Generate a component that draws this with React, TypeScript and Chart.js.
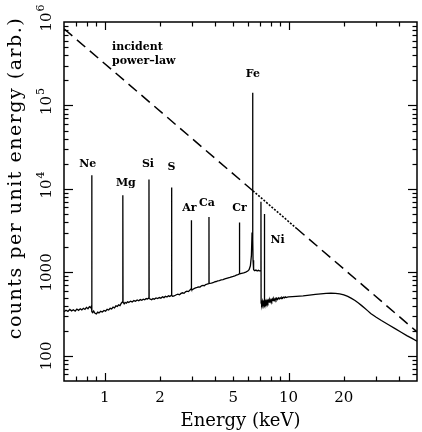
import { useEffect, useRef } from "react";
import { Chart, registerables } from "chart.js";
Chart.register(...registerables);

// Continuum of the reflected spectrum (keV, counts)
const contE = [
  0.6, 0.615, 0.63, 0.645, 0.66, 0.675, 0.69, 0.705, 0.72, 0.735, 0.75, 0.765, 0.78, 0.795, 0.81, 0.825, 0.838, 0.846,
  0.852, 0.86, 0.87, 0.885, 0.9, 0.915, 0.93, 0.95, 0.97, 0.99, 1.01, 1.03, 1.05, 1.07, 1.09, 1.11, 1.13, 1.15, 1.17,
  1.19, 1.21, 1.23, 1.251, 1.257, 1.275, 1.29, 1.31, 1.33, 1.35, 1.38, 1.41, 1.44, 1.47, 1.5, 1.53, 1.56, 1.59, 1.62,
  1.65, 1.68, 1.71, 1.736, 1.744, 1.77, 1.8, 1.83, 1.86, 1.9, 1.94, 1.98, 2.02, 2.06, 2.1, 2.14, 2.18, 2.22, 2.26,
  2.305, 2.315, 2.35, 2.4, 2.45, 2.5, 2.55, 2.6, 2.65, 2.7, 2.75, 2.8, 2.85, 2.9, 2.955, 2.965, 3.0, 3.06, 3.12, 3.18,
  3.24, 3.3, 3.36, 3.42, 3.48, 3.54, 3.6, 3.685, 3.695, 3.8, 3.88, 3.96, 4.04, 4.12, 4.2, 4.3, 4.4, 4.5, 4.6, 4.7,
  4.8, 4.9, 5.0, 5.1, 5.2, 5.3, 5.405, 5.415, 5.55, 5.7, 5.85, 6.0, 6.1, 6.2, 6.28, 6.33, 6.37, 6.385, 6.395, 6.41,
  6.43, 6.48, 6.55, 6.65, 6.75, 6.85, 6.95, 7.04, 7.075, 7.09, 7.12, 7.16, 7.2, 7.24, 7.28, 7.32, 7.36, 7.395, 7.405,
  7.45, 7.5, 7.55, 7.6, 7.66, 7.72, 7.78, 7.84, 7.9, 7.96, 8.03, 8.1, 8.17, 8.24, 8.31, 8.38, 8.46, 8.54, 8.62, 8.7,
  8.8, 8.9, 9.0, 9.1, 9.2, 9.3, 9.4, 9.5, 9.6, 9.7, 9.85, 10.0, 10.5, 11, 12, 13, 14, 15, 16, 17, 18, 19, 20, 21, 22,
  23, 24, 25, 26, 27, 28, 30, 32, 35, 38, 41, 44, 47, 50,
];
const contC = [
  338, 352, 341, 360, 346, 357, 343, 364, 351, 367, 356, 372, 360, 381, 367, 389, 377, 395,
  338, 330, 345, 324, 318, 334, 327, 342, 335, 350, 343, 361, 354, 371, 365, 383, 375, 397, 391,
  409, 401, 427, 445, 440, 420, 436, 427, 445, 437, 452, 443, 460, 451, 468, 457, 472, 463, 478,
  469, 486, 479, 495, 488, 477, 471, 486, 477, 494, 485, 500, 491, 510, 499, 518, 507, 524, 515,
  535, 530, 517, 526, 540, 548, 539, 560, 570, 561, 585, 596, 589, 612, 640, 631, 621, 640, 652, 660,
  672, 667, 690, 700, 693, 716, 722, 735, 738, 745, 752, 770, 778, 790, 798, 812, 820, 836, 848, 860,
  872, 885, 896, 910, 925, 940, 958, 962, 975, 990, 1010, 1040, 1080, 1200, 1600, 3000, 3700, 3600, 2500, 1400,
  1150, 1080, 1050, 1070, 1040, 1060, 1045, 1050, 1040, 430, 445, 412, 450, 418, 440, 425, 448, 430, 425,
  452, 428, 455, 432, 458, 436, 462, 440, 466, 445, 472, 452, 478, 458, 482, 462, 486, 468, 490, 474,
  494, 480, 498, 486, 502, 492, 506, 496, 508, 500, 506, 509, 512, 516, 524, 534, 545, 552, 560, 563, 560, 552, 538, 515, 488,
  460, 430, 400, 372, 346, 322, 290, 265, 236, 212, 192, 175, 162, 150,
];

// Emission lines (keV, peak counts)
const lineNames = ["Ne", "Mg", "Si", "S", "Ar", "Ca", "Cr", "Fe", "", "Ni"];
const lineE = [0.849, 1.254, 1.74, 2.31, 2.96, 3.69, 5.41, 6.39, 7.08, 7.4];
const lineC = [14600, 8400, 12970, 10400, 4210, 4610, 3950, 142000, 7000, 5000];

// Incident power-law (keV, counts): dashed, dotted section, dashed
const plDashAE = [0.6, 6.4];
const plDashAC = [830000, 9500];
const plDotE = [6.4, 11];
const plDotC = [9500, 3400];
const plDashBE = [11, 50];
const plDashBC = [3400, 194];

const xTickLabels = [1, 2, 5, 10, 20];
const yTickValues = [100, 1000, 10000, 100000, 1000000];

// label pixel offsets from (line x, peak y)
const labelOffsets: ([number, number] | null)[] = [
  [-4, -11], [3, -12], [-1, -15], [0, -20], [-2, -12], [-2, -14], [0, -14], [0, -19], null, [13, 26],
];

const SERIF = '"DejaVu Serif", serif';

function pts(e: number[], c: number[]) {
  return e.map((v, i) => ({ x: v, y: c[i] }));
}

const framePlugin = {
  id: "framePlugin",
  afterDraw(chart: any) {
    const { ctx, chartArea: a, scales } = chart;
    const xs = scales.x;
    const ys = scales.y;
    ctx.save();
    ctx.strokeStyle = "#000";
    ctx.fillStyle = "#000";
    ctx.lineWidth = 1.5;
    ctx.strokeRect(a.left, a.top, a.right - a.left, a.bottom - a.top);
    ctx.lineWidth = 1.2;
    const seg = (x1: number, y1: number, x2: number, y2: number) => {
      ctx.beginPath();
      ctx.moveTo(x1, y1);
      ctx.lineTo(x2, y2);
      ctx.stroke();
    };
    for (let d = -1; d <= 1; d++) {
      for (let m = 1; m <= 9; m++) {
        const v = m * Math.pow(10, d);
        if (v <= xs.min * 1.0001 || v >= xs.max * 0.9999) continue;
        const px = Math.round(xs.getPixelForValue(v)) + 0.5;
        const len = m === 1 ? 8 : 4.5;
        seg(px, a.bottom, px, a.bottom - len);
        seg(px, a.top, px, a.top + len);
      }
    }
    for (let d = 1; d <= 6; d++) {
      for (let m = 1; m <= 9; m++) {
        const v = m * Math.pow(10, d);
        if (v <= ys.min * 1.0001 || v >= ys.max * 0.9999) continue;
        const py = Math.round(ys.getPixelForValue(v)) + 0.5;
        const len = m === 1 ? 9 : 4.5;
        seg(a.left, py, a.left + len, py);
        seg(a.right, py, a.right - len, py);
      }
    }
    // x tick labels
    ctx.font = `15px ${SERIF}`;
    ctx.textAlign = "center";
    ctx.textBaseline = "middle";
    for (const v of xTickLabels) {
      ctx.fillText(String(v), xs.getPixelForValue(v), a.bottom + 17);
    }
    // y tick labels (rotated)
    for (const v of yTickValues) {
      const py = ys.getPixelForValue(v);
      const exp = Math.round(Math.log10(v));
      ctx.save();
      ctx.translate(47, py);
      ctx.rotate(-Math.PI / 2);
      ctx.textBaseline = "middle";
      if (exp <= 3) {
        ctx.font = `15px ${SERIF}`;
        ctx.textAlign = "center";
        ctx.fillText(String(v), 0, 0);
      } else {
        ctx.font = `15px ${SERIF}`;
        const w = ctx.measureText("10").width;
        ctx.textAlign = "left";
        ctx.fillText("10", -w / 2, 0);
        ctx.font = `11px ${SERIF}`;
        ctx.fillText(String(exp), w / 2 + 1, -6);
      }
      ctx.restore();
    }
    // axis titles
    ctx.font = `18px ${SERIF}`;
    ctx.textAlign = "center";
    ctx.textBaseline = "middle";
    ctx.fillText("Energy (keV)", (a.left + a.right) / 2, 421);
    ctx.save();
    ctx.translate(16, 178);
    ctx.rotate(-Math.PI / 2);
    ctx.font = `19px ${SERIF}`;
    try {
      (ctx as any).letterSpacing = "1.5px";
    } catch (e) {}
    ctx.fillText("counts per unit energy (arb.)", 0, 0);
    try {
      (ctx as any).letterSpacing = "0px";
    } catch (e) {}
    ctx.restore();
    // line labels
    ctx.font = `bold 11px ${SERIF}`;
    ctx.textAlign = "center";
    ctx.textBaseline = "middle";
    lineNames.forEach((n, i) => {
      const off = labelOffsets[i];
      if (!n || !off) return;
      const px = xs.getPixelForValue(lineE[i]);
      const py = ys.getPixelForValue(lineC[i]);
      ctx.fillText(n, px + off[0], py + off[1]);
    });
    ctx.textAlign = "left";
    ctx.fillText("incident", 112, 47);
    ctx.fillText("power\u2013law", 112, 61);
    ctx.restore();
  },
};

export default function App() {
  const ref = useRef<HTMLCanvasElement | null>(null);
  useEffect(() => {
    document.body.style.margin = "0";
    const spectrum = pts(contE, contC)
      .concat(pts(lineE, lineC))
      .sort((p, q) => p.x - q.x);
    const chart = new Chart(ref.current as HTMLCanvasElement, {
      type: "scatter",
      data: {
        datasets: [
          {
            data: spectrum,
            showLine: true,
            borderColor: "#000",
            borderWidth: 1.3,
            pointRadius: 0,
          },
          {
            data: pts(plDashAE, plDashAC),
            showLine: true,
            borderColor: "#000",
            borderWidth: 1.5,
            borderDash: [11, 6],
            pointRadius: 0,
          },
          {
            data: pts(plDotE, plDotC),
            showLine: true,
            borderColor: "#000",
            borderWidth: 1.6,
            borderDash: [2, 1.5],
            pointRadius: 0,
          },
          {
            data: pts(plDashBE, plDashBC),
            showLine: true,
            borderColor: "#000",
            borderWidth: 1.5,
            borderDash: [11, 6],
            pointRadius: 0,
          },
        ],
      },
      options: {
        responsive: false,
        animation: false,
        events: [],
        layout: { padding: { left: 64, right: 5, top: 22, bottom: 51 } },
        scales: {
          x: { type: "logarithmic", min: 0.6, max: 50, display: false },
          y: { type: "logarithmic", min: 50, max: 1000000, display: false },
        },
        plugins: { legend: { display: false }, tooltip: { enabled: false } },
      },
      plugins: [framePlugin],
    });
    return () => chart.destroy();
  }, []);
  return <canvas ref={ref} width={422} height={432} style={{ display: "block" }} />;
}
